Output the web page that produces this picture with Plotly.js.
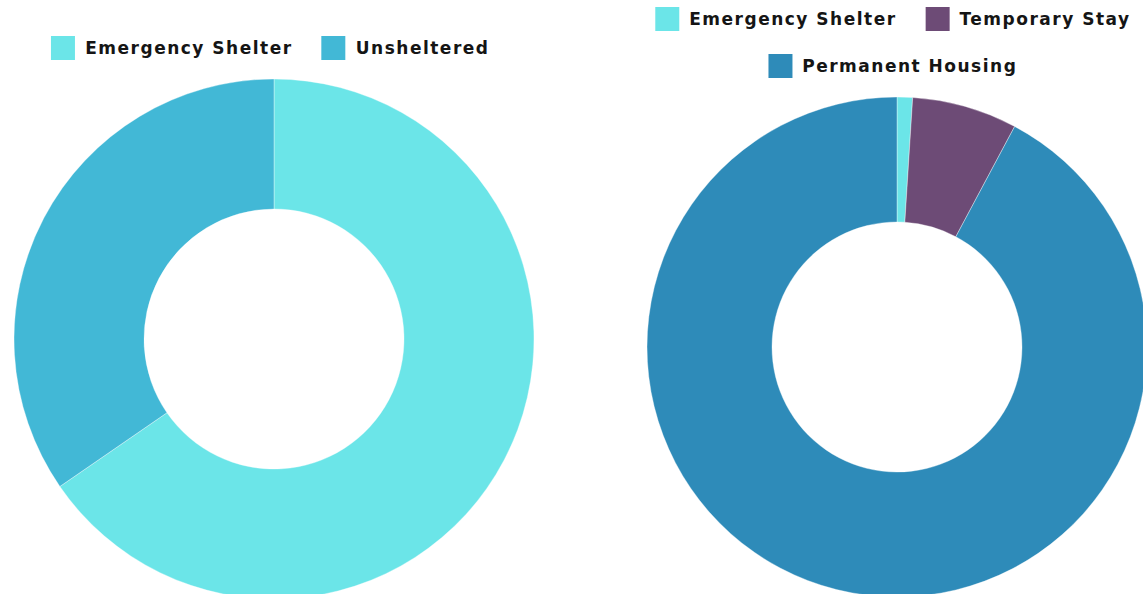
<!DOCTYPE html>
<html><head><meta charset="utf-8">
<script src="https://cdn.plot.ly/plotly-3.0.1.min.js"></script>
<style>html,body{margin:0;padding:0;overflow:hidden;background:#fff}#chart{width:1160px;height:610px}
#chart .annotation-text{letter-spacing:1.5px}</style>
</head><body><div id="chart"></div>
<script>
const leftLabels = ["Emergency Shelter", "Unsheltered"];
const leftValues = [65.4, 34.6];
const leftColors = ["#6be5e8", "#42b8d6"];

const rightLabels = ["Emergency Shelter", "Temporary Stay", "Permanent Housing"];
const rightValues = [1.0, 6.8, 92.2];
const rightColors = ["#6be5e8", "#6d4b76", "#2e8bb9"];

const W = 1160, H = 610;
const fx = px => px / W;
const fy = py => 1 - py / H;
const FONT = "DejaVu Sans";
const FS = 17;
const LS = 1.5;
const ctx = document.createElement('canvas').getContext('2d');
ctx.font = 'bold ' + FS + 'px "' + FONT + '"';
const tw = s => ctx.measureText(s).width + LS * s.length;
const SYM = 24, SYMGAP = 10, ITEMGAP = 29;

const shapes = [], annots = [];
function legendRow(labels, colors, cx, cy) {
  const widths = labels.map(l => SYM + SYMGAP + tw(l));
  const total = widths.reduce((a, b) => a + b, 0) + ITEMGAP * (labels.length - 1);
  let x = cx - total / 2;
  labels.forEach((l, i) => {
    shapes.push({type: 'rect', xref: 'paper', yref: 'paper',
      x0: fx(x), x1: fx(x + SYM), y0: fy(cy + SYM / 2), y1: fy(cy - SYM / 2),
      fillcolor: colors[i], line: {width: 0}});
    annots.push({xref: 'paper', yref: 'paper', x: fx(x + SYM + SYMGAP + tw(l) / 2), y: fy(cy),
      xanchor: 'center', yanchor: 'middle', text: l, showarrow: false,
      font: {family: FONT, size: FS, color: '#151515', weight: 700}});
    x += widths[i] + ITEMGAP;
  });
}
legendRow(leftLabels, leftColors, 270, 48);
legendRow(rightLabels.slice(0, 2), rightColors.slice(0, 2), 893, 19);
legendRow(rightLabels.slice(2), rightColors.slice(2), 893, 66);

const common = {type: 'pie', hole: 0.5, sort: false, direction: 'clockwise', rotation: 0,
  textinfo: 'none', hoverinfo: 'label+percent', showlegend: false};

const data = [
  Object.assign({}, common, {labels: leftLabels, values: leftValues,
    marker: {colors: leftColors, line: {color: 'rgba(255,255,255,0.6)', width: 0.6}},
    domain: {x: [fx(14), fx(534)], y: [fy(599), fy(79)]}}),
  Object.assign({}, common, {labels: rightLabels, values: rightValues,
    marker: {colors: rightColors, line: {color: 'rgba(255,255,255,0.6)', width: 0.6}},
    domain: {x: [fx(647), fx(1147)], y: [fy(597), fy(97)]}})
];

const layout = {width: W, height: H, margin: {l: 0, r: 0, t: 0, b: 0},
  paper_bgcolor: '#ffffff', plot_bgcolor: '#ffffff',
  shapes: shapes, annotations: annots, showlegend: false};

Plotly.newPlot('chart', data, layout, {displayModeBar: false});
</script>
</body></html>
